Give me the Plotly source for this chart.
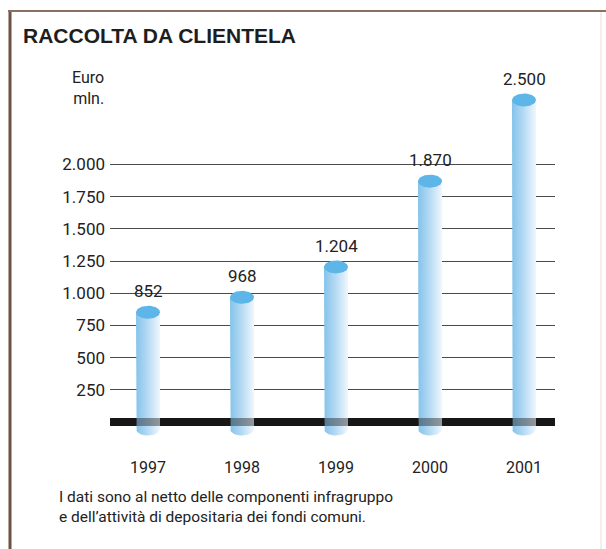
import numpy as np
import plotly.graph_objects as go

# --- data -------------------------------------------------------------
years = ["1997", "1998", "1999", "2000", "2001"]
raccolta = [852, 968, 1204, 1870, 2500]          # Euro mln.
tick_values = [250, 500, 750, 1000, 1250, 1500, 1750, 2000]

title_text = "RACCOLTA DA CLIENTELA"
unit_text = "Euro<br>mln."
note_text = ("I dati sono al netto delle componenti infragruppo<br>"
             "e dell\u2019attività di depositaria dei fondi comuni.")

# --- geometry of the page (pixels) --------------------------------------
W, H = 606, 549
zero_px = 422                 # pixel row of the value 0
top_px = 100                  # pixel row reached by the tallest bar
px_per_unit = (zero_px - top_px) / max(raccolta)
x_left_px, x_right_px = 110, 555
first_px, step_px = 148, 94   # centre of the first cylinder, spacing

x_range = [(x_left_px - first_px) / step_px, (x_right_px - first_px) / step_px]
y_range = [-(H - zero_px) / px_per_unit, zero_px / px_per_unit]

half_w = 12 / step_px                 # cylinder half-width (x units)
cap_h = 6.5 / px_per_unit             # half-height of the elliptic cap (y units)
bottom = -7 / px_per_unit             # cylinder body goes slightly below the axis

FONT = "Roboto, Liberation Sans, sans-serif"
fig = go.Figure()

# solid base line (under the cylinders)
fig.add_shape(type="line", xref="x", yref="y", x0=x_range[0], x1=x_range[1],
              y0=0, y1=0, line=dict(color="#1b1b1b", width=8), layer="below")

# cylinder bodies with a rounded bottom, shaded left to right
arc_t = np.linspace(0, np.pi, 30)
for i, v in enumerate(raccolta):
    arc_x = i - half_w * np.cos(arc_t)
    arc_y = bottom - cap_h * np.sin(arc_t)
    xs = [i - half_w] + list(arc_x) + [i + half_w, i - half_w]
    ys = [v] + list(arc_y) + [v, v]
    fig.add_trace(go.Scatter(
        x=xs, y=ys, mode="lines", fill="toself", line=dict(width=0),
        fillgradient=dict(type="horizontal",
                          colorscale=[[0, "#84c3eb"], [0.45, "#b1d8f3"], [1, "#f0f7fd"]]),
        hoverinfo="skip", showlegend=False))

# translucent pass of the base line so it shows through the cylinders
fig.add_trace(go.Scatter(x=x_range, y=[0, 0], mode="lines",
                         line=dict(color="rgba(20,20,20,0.42)", width=8),
                         hoverinfo="skip", showlegend=False))

# elliptic caps
th = np.linspace(0, 2 * np.pi, 60)
for i, v in enumerate(raccolta):
    fig.add_trace(go.Scatter(
        x=i + half_w * np.cos(th), y=v + cap_h * np.sin(th), mode="lines",
        fill="toself", fillcolor="#5eb5e7", line=dict(width=0),
        hoverinfo="skip", showlegend=False))

# value labels
for i, v in enumerate(raccolta):
    fig.add_annotation(x=i, y=v, text=f"{v:,}".replace(",", "."), showarrow=False,
                       yshift=21, font=dict(family=FONT, size=17, color="#222"))

# category labels
for i, yr in enumerate(years):
    fig.add_annotation(x=i, y=0, text=yr, showarrow=False, yshift=-45,
                       font=dict(family=FONT, size=16, color="#222"))

fig.add_annotation(xref="paper", yref="paper", x=21 / W, y=1 - 35 / H, text=f"<b>{title_text}</b>",
                   showarrow=False, xanchor="left", yanchor="middle",
                   font=dict(family="Liberation Sans, Arial, sans-serif", size=21, color="#1e1e1e"))
fig.add_annotation(xref="paper", yref="paper", x=106 / W, y=1 - 88 / H, text=unit_text,
                   showarrow=False, xanchor="right", yanchor="middle", align="right",
                   font=dict(family=FONT, size=16, color="#222"))
fig.add_annotation(xref="paper", yref="paper", x=57 / W, y=1 - 507 / H, text=note_text,
                   showarrow=False, xanchor="left", yanchor="middle", align="left",
                   font=dict(family=FONT, size=15.5, color="#222"))

# worn frame around the page
fig.add_shape(type="line", xref="paper", yref="paper", x0=10 / W, x1=10 / W,
              y0=0, y1=1 - 11 / H, line=dict(color="#6e5044", width=3))
fig.add_shape(type="line", xref="paper", yref="paper", x0=8 / W, x1=1,
              y0=1 - 11 / H, y1=1 - 11 / H, line=dict(color="#8a6f62", width=2))
fig.add_shape(type="line", xref="paper", yref="paper", x0=601 / W, x1=601 / W,
              y0=0, y1=1 - 12 / H, line=dict(color="#f4efeb", width=2))

fig.update_layout(
    width=W, height=H, margin=dict(l=0, r=0, t=0, b=0),
    paper_bgcolor="white", plot_bgcolor="rgba(0,0,0,0)",
    separators=",.",
    xaxis=dict(domain=[x_left_px / W, x_right_px / W], range=x_range,
               showgrid=False, zeroline=False, showticklabels=False, ticks=""),
    yaxis=dict(domain=[0, 1], range=y_range, tickvals=tick_values, tickformat=",d",
               showgrid=True, gridcolor="#4a4a4a", gridwidth=1.3, zeroline=False,
               ticks="", ticklabelstandoff=4,
               tickfont=dict(family=FONT, size=17, color="#222")),
)

fig.write_html("out.html")
